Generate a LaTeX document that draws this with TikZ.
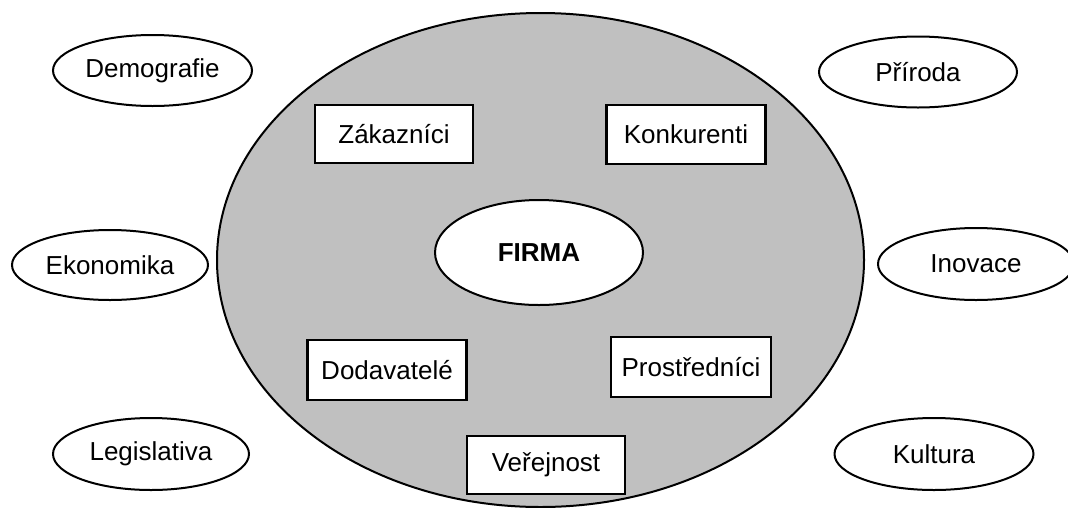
\documentclass[tikz,border=0pt]{standalone}
\usepackage{fontspec}
\setmainfont{Liberation Sans}
\usetikzlibrary{shapes.geometric}
\definecolor{envgray}{HTML}{C0C0C0}
\begin{document}
\begin{tikzpicture}[x=1pt,y=-1pt,
  txt/.style={font=\fontsize{26}{30}\selectfont, inner sep=0pt, outer sep=0pt},
  outer/.style={txt, draw=black, line width=2pt, fill=white, ellipse},
  actor/.style={txt, draw=black, line width=2.5pt, fill=white, rectangle},
  env/.style={draw=black, line width=2pt, fill=envgray, ellipse, inner sep=0pt}]
\useasboundingbox (0,0) rectangle (1068,507);
\clip (0,0) rectangle (1068,507);
\node[env, minimum width=647pt, minimum height=494pt] (okoli) at (540.5,260) {};
\node[outer, minimum width=208pt, minimum height=105pt, font=\fontsize{26}{30}\selectfont\bfseries] (firma) at (539,252.5) {FIRMA};
\node[outer, minimum width=199pt, minimum height=71pt] (demo) at (152.5,70.5) {Demografie};
\node[outer, minimum width=196pt, minimum height=70pt] (ekon) at (110,265) {Ekonomika};
\node[outer, minimum width=196pt, minimum height=72pt] (legi) at (151,454) {Legislativa};
\node[outer, minimum width=198pt, minimum height=71pt] (prir) at (918,72) {Příroda};
\node[outer, minimum width=196pt, minimum height=72pt] (inov) at (976,264) {Inovace};
\node[outer, minimum width=199pt, minimum height=72pt] (kult) at (934,454) {Kultura};
\node[actor, minimum width=158pt, minimum height=58pt] (zak) at (394,134) {Zákazníci};
\node[actor, minimum width=159pt, minimum height=59pt] (konk) at (686,134.5) {Konkurenti};
\node[actor, minimum width=159pt, minimum height=60pt] (dod) at (387,370) {Dodavatelé};
\node[actor, minimum width=160pt, minimum height=60pt] (pros) at (691,367) {Prostředníci};
\node[actor, minimum width=158pt, minimum height=58pt] (vere) at (546,465) {Veřejnost};
\end{tikzpicture}
\end{document}
